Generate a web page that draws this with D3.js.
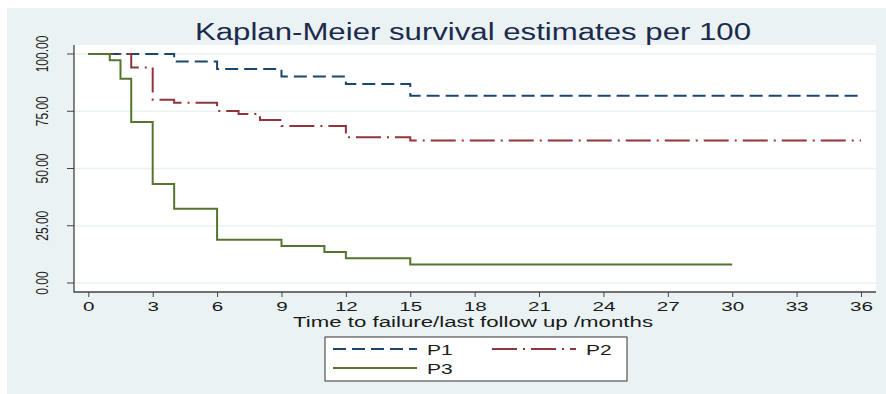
<!DOCTYPE html>
<html>
<head>
<meta charset="utf-8">
<script src="https://cdn.jsdelivr.net/npm/d3@7"></script>
<style>
  body { margin: 0; background: #fff; }
  text { font-family: "Liberation Sans", Arial, sans-serif; }
</style>
</head>
<body>
<script>
// survival curves
var p1Time = [0, 4, 6, 9, 12, 15, 36];
var p1Surv = [100, 96.7, 93.4, 90.2, 86.9, 81.8, 81.8];

var p2Time = [0, 2, 3, 4, 6, 7, 8, 9, 12, 15, 36];
var p2Surv = [100, 94.1, 80.0, 78.7, 75.1, 73.8, 71.2, 68.6, 63.6, 62.2, 62.2];

var p3Time = [0, 1, 1.5, 2, 3, 4, 6, 9, 11, 12, 15, 30];
var p3Surv = [100, 97.3, 89.2, 70.3, 43.2, 32.4, 18.9, 16.2, 13.5, 10.8, 8.1, 8.1];

var xTicks = [0, 3, 6, 9, 12, 15, 18, 21, 24, 27, 30, 33, 36];
var yTicks = [0, 25, 50, 75, 100];

var seriesNames = ["P1", "P2", "P3"];

var width = 886;
var height = 394;

var svg = d3.select("body")
    .append("svg")
    .attr("width", width)
    .attr("height", height);

// stata style background
svg.append("rect")
    .attr("x", 7).attr("y", 8)
    .attr("width", width - 7).attr("height", height - 8)
    .attr("fill", "#eaf2f3");

var plotL = 74, plotR = 876, plotT = 45, plotB = 292;

svg.append("rect")
    .attr("x", plotL).attr("y", plotT)
    .attr("width", plotR - plotL).attr("height", plotB - plotT)
    .attr("fill", "#fff");

var x = d3.scaleLinear().domain([0, 36]).range([88.3, 861]);
var y = d3.scaleLinear().domain([0, 100]).range([283, 54]);

// grid lines
svg.append("g")
    .selectAll("line")
    .data(yTicks)
    .enter().append("line")
    .attr("x1", plotL).attr("x2", plotR)
    .attr("y1", function(d) { return y(d); })
    .attr("y2", function(d) { return y(d); })
    .attr("stroke", "#eaf2f3")
    .attr("stroke-width", 1.5);

// title
svg.append("text")
    .attr("x", 473)
    .attr("y", 40)
    .attr("text-anchor", "middle")
    .attr("font-size", 23)
    .attr("fill", "#1c2a4d")
    .attr("textLength", 556)
    .attr("lengthAdjust", "spacingAndGlyphs")
    .text("Kaplan-Meier survival estimates per 100");

// x axis
var xAxis = svg.append("g")
    .attr("transform", "translate(0," + plotB + ")")
    .call(d3.axisBottom(x)
        .tickValues(xTicks)
        .tickSize(5)
        .tickSizeOuter(0)
        .tickPadding(5));
xAxis.select(".domain").remove();
xAxis.selectAll(".tick line").attr("stroke", "#444");
xAxis.selectAll(".tick text")
    .attr("font-size", 12.5)
    .attr("font-family", "Liberation Sans, Arial, sans-serif")
    .attr("fill", "#1a1a1a")
    .attr("transform", "scale(1.65,1)");

// y axis ticks + labels
var yAxis = svg.append("g");
yAxis.selectAll("line")
    .data(yTicks)
    .enter().append("line")
    .attr("x1", plotL - 7).attr("x2", plotL)
    .attr("y1", function(d) { return y(d); })
    .attr("y2", function(d) { return y(d); })
    .attr("stroke", "#444");
yAxis.selectAll("text")
    .data(yTicks)
    .enter().append("text")
    .attr("transform", function(d) { return "translate(48," + y(d) + ") rotate(-90) scale(1,1.4)"; })
    .attr("text-anchor", "middle")
    .attr("font-size", 12)
    .attr("fill", "#1a1a1a")
    .text(d3.format(".2f"));

// axis lines
svg.append("path")
    .attr("d", "M" + plotL + "," + plotT + "V" + plotB + "H" + plotR)
    .attr("fill", "none")
    .attr("stroke", "#444")
    .attr("stroke-width", 1.3);

svg.append("text")
    .attr("x", 473)
    .attr("y", 327)
    .attr("text-anchor", "middle")
    .attr("font-size", 14)
    .attr("fill", "#1a1a1a")
    .attr("textLength", 360)
    .attr("lengthAdjust", "spacingAndGlyphs")
    .text("Time to failure/last follow up /months");

// curves
var line = d3.line()
    .x(function(d) { return x(d[0]); })
    .y(function(d) { return y(d[1]); })
    .curve(d3.curveStepAfter);

var curves = [
    { name: "P1", pts: d3.zip(p1Time, p1Surv), color: "#1a476f", dash: "13,6" },
    { name: "P2", pts: d3.zip(p2Time, p2Surv), color: "#90353b", dash: "25,6,2,6" },
    { name: "P3", pts: d3.zip(p3Time, p3Surv), color: "#55752f", dash: null }
];

svg.append("g")
    .selectAll("path")
    .data(curves)
    .enter().append("path")
    .attr("d", function(d) { return line(d.pts); })
    .attr("fill", "none")
    .attr("stroke", function(d) { return d.color; })
    .attr("stroke-width", 2)
    .attr("stroke-dasharray", function(d) { return d.dash; });

// legend
var legend = svg.append("g");
legend.append("rect")
    .attr("x", 325).attr("y", 337)
    .attr("width", 302).attr("height", 44)
    .attr("fill", "#fff")
    .attr("stroke", "#333")
    .attr("stroke-width", 1);

var legPos = [[333, 349], [492, 349], [333, 368]];

legend.selectAll("line")
    .data(curves)
    .enter().append("line")
    .attr("x1", function(d, i) { return legPos[i][0]; })
    .attr("x2", function(d, i) { return legPos[i][0] + 84; })
    .attr("y1", function(d, i) { return legPos[i][1]; })
    .attr("y2", function(d, i) { return legPos[i][1]; })
    .attr("stroke", function(d) { return d.color; })
    .attr("stroke-width", 2)
    .attr("stroke-dasharray", function(d) { return d.dash; });

legend.selectAll("text")
    .data(seriesNames)
    .enter().append("text")
    .attr("transform", function(d, i) {
        return "translate(" + (legPos[i][0] + 94) + "," + (legPos[i][1] + 6) + ") scale(1.5,1)";
    })
    .attr("font-size", 14)
    .attr("fill", "#1a1a1a")
    .text(function(d) { return d; });
</script>
</body>
</html>
